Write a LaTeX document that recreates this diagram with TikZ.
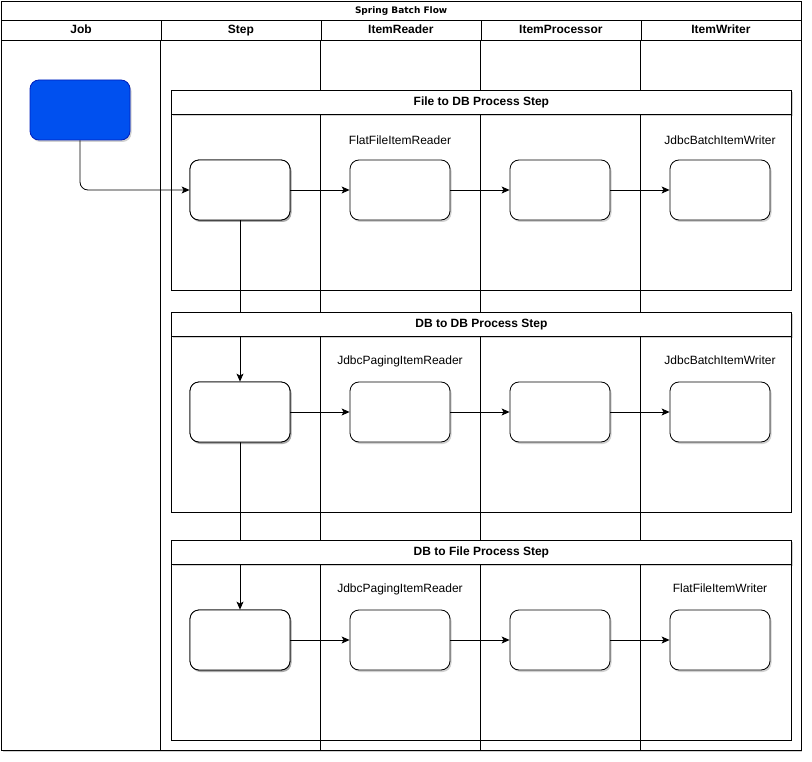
\documentclass[tikz,border=0pt]{standalone}
\usepackage{fontspec}
\setmainfont{Liberation Sans}
\newfontfamily\titlefont{DejaVu Sans}
\usetikzlibrary{arrows.meta,shadows}
\begin{document}
\begin{tikzpicture}[x=1pt,y=-1pt,
  shad/.style={drop shadow={shadow xshift=1.5pt,shadow yshift=-2pt,opacity=0.18,fill=black}},
  poolbox/.style={draw=black,line width=0.8pt,fill=white,shad},
  lanehead/.style={draw=black,line width=0.8pt,minimum height=20pt,inner sep=0pt,text height=8.6pt,text depth=2.4pt,font=\fontsize{12}{14}\selectfont\bfseries},
  lanel/.style={line width=0.8pt},
  conthead/.style={draw=black,line width=0.8pt,fill=white,minimum width=620pt,minimum height=24pt,inner sep=0pt,text height=8.6pt,text depth=2.4pt,anchor=north west,font=\fontsize{12}{14}\selectfont\bfseries,shad},
  contbody/.style={draw=black,line width=0.8pt},
  stepbox/.style={draw=black,line width=0.8pt,fill=white,rounded corners=9pt,minimum width=100pt,minimum height=60pt,inner sep=0pt,shad},
  jobbox/.style={draw={rgb,255:red,0;green,29;blue,188},line width=0.8pt,fill={rgb,255:red,0;green,80;blue,239},rounded corners=9pt,minimum width=100pt,minimum height=60pt,inner sep=0pt,shad},
  lbl/.style={font=\fontsize{12}{14}\selectfont,inner sep=0pt,text height=8.6pt,text depth=2.4pt},
  arr/.style={line width=0.8pt,-{Stealth[length=8pt,width=7pt,inset=2pt]}}
]
\useasboundingbox (0,0) rectangle (812,762);
\fill[white] (0,0) rectangle (812,762);
% pool
\node[poolbox,minimum width=799.5pt,minimum height=749pt,inner sep=0pt,anchor=north west] (pool) at (1,1) {};
\node[draw=black,line width=0.8pt,minimum width=799.5pt,minimum height=19pt,inner sep=0pt,text height=6.8pt,text depth=1.8pt,anchor=north west,font=\titlefont\fontsize{9}{11}\selectfont\bfseries] (title) at (1,1) {Spring Batch Flow};
\node[lanehead,minimum width=159.5pt,anchor=north west] (hjob) at (1,20) {Job};
\node[lanehead,minimum width=160pt,anchor=north west] (hstep) at (160.5,20) {Step};
\node[lanehead,minimum width=160pt,anchor=north west] (hread) at (320.5,20) {ItemReader};
\node[lanehead,minimum width=160pt,anchor=north west] (hproc) at (480.5,20) {ItemProcessor};
\node[lanehead,minimum width=160pt,anchor=north west] (hwrite) at (640.5,20) {ItemWriter};
\draw[lanel] (160.5,40) -- (160.5,750);
\draw[lanel] (320.5,40) -- (320.5,750);
\draw[lanel] (480.5,40) -- (480.5,750);
\draw[lanel] (640.5,40) -- (640.5,750);
% job node and vertical step connectors
\node[jobbox] (job) at (80,110) {};
\node[stepbox] (s1) at (240,190) {};
\node[stepbox] (s2) at (240,412) {};
\node[stepbox] (s3) at (240,640) {};
\draw[arr,rounded corners=8pt] (job.south) |- (s1.west);
\draw[arr] (s1.south) -- (s2.north);
\draw[arr] (s2.south) -- (s3.north);
% containers
\draw[contbody] (171,90) rectangle (791,290);
\draw[contbody] (171,312) rectangle (791,512);
\draw[contbody] (171,540) rectangle (791,740);
\node[conthead] (c1) at (171,90) {File to DB Process Step};
\node[conthead] (c2) at (171,312) {DB to DB Process Step};
\node[conthead] (c3) at (171,540) {DB to File Process Step};
% step nodes on top
\node[stepbox] (s1b) at (240,190) {};
\node[stepbox] (s2b) at (240,412) {};
\node[stepbox] (s3b) at (240,640) {};
\node[stepbox] (r1) at (400,190) {};
\node[stepbox] (p1) at (560,190) {};
\node[stepbox] (w1) at (720,190) {};
\node[stepbox] (r2) at (400,412) {};
\node[stepbox] (p2) at (560,412) {};
\node[stepbox] (w2) at (720,412) {};
\node[stepbox] (r3) at (400,640) {};
\node[stepbox] (p3) at (560,640) {};
\node[stepbox] (w3) at (720,640) {};
\draw[arr] (s1b) -- (r1);
\draw[arr] (r1) -- (p1);
\draw[arr] (p1) -- (w1);
\draw[arr] (s2b) -- (r2);
\draw[arr] (r2) -- (p2);
\draw[arr] (p2) -- (w2);
\draw[arr] (s3b) -- (r3);
\draw[arr] (r3) -- (p3);
\draw[arr] (p3) -- (w3);
% labels
\node[lbl] (l1) at (400,141) {FlatFileItemReader};
\node[lbl] (l2) at (720,141) {JdbcBatchItemWriter};
\node[lbl] (l3) at (400,361) {JdbcPagingItemReader};
\node[lbl] (l4) at (720,361) {JdbcBatchItemWriter};
\node[lbl] (l5) at (400,589) {JdbcPagingItemReader};
\node[lbl] (l6) at (720,589) {FlatFileItemWriter};
\end{tikzpicture}
\end{document}
